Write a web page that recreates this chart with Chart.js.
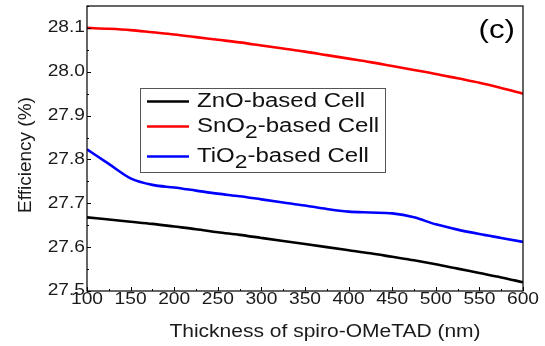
<!DOCTYPE html>
<html>
<head>
<meta charset="utf-8">
<script src="https://cdn.jsdelivr.net/npm/chart.js@4.4.1/dist/chart.umd.min.js"></script>
<style>
  html, body { margin: 0; padding: 0; background: #fff; }
  #wrap { width: 545px; height: 346px; }
</style>
</head>
<body>
<div id="wrap"><canvas id="effChart" width="545" height="346"></canvas></div>
<script>
// Thickness of spiro-OMeTAD (nm)
const thickness = [100, 125, 150, 175, 200, 225, 250, 275, 300, 325, 350,
                   375, 400, 425, 450, 475, 500, 525, 550, 575, 600];

// Efficiency (%)
const znoEff = [27.668, 27.663, 27.658, 27.653, 27.647, 27.641, 27.634, 27.628, 27.621, 27.614, 27.607,
                27.600, 27.593, 27.586, 27.578, 27.570, 27.561, 27.551, 27.541, 27.531, 27.520];
const sno2Eff = [28.100, 28.098, 28.095, 28.090, 28.085, 28.079, 28.073, 28.067, 28.060, 28.053, 28.046,
                 28.038, 28.030, 28.022, 28.013, 28.004, 27.995, 27.985, 27.975, 27.963, 27.950];
const tio2Eff = [27.823, 27.790, 27.757, 27.742, 27.736, 27.729, 27.722, 27.716, 27.709, 27.702, 27.695,
                 27.687, 27.681, 27.679, 27.677, 27.668, 27.652, 27.640, 27.630, 27.621, 27.612];

const seriesNames = ['ZnO-based Cell', 'SnO2-based Cell', 'TiO2-based Cell'];
const seriesColors = ['#000000', '#ff0000', '#0000ff'];
const xTicks = [100, 150, 200, 250, 300, 350, 400, 450, 500, 550, 600];
const yTicks = [27.5, 27.6, 27.7, 27.8, 27.9, 28.0, 28.1];

const FONT = 'Arial, "Liberation Sans", Helvetica, sans-serif';
const SX = 1.2; // the original text looks horizontally stretched

function toPoints(ys) {
    return thickness.map((t, i) => ({ x: t, y: ys[i] }));
}

// draw text with a horizontal stretch, returns drawn width
function stretchText(ctx, text, x, y, align) {
    const w = ctx.measureText(text).width * SX;
    let left = x;
    if (align === 'right') left = x - w;
    else if (align === 'center') left = x - w / 2;
    ctx.save();
    ctx.translate(left, y);
    ctx.scale(SX, 1);
    ctx.textAlign = 'left';
    ctx.fillText(text, 0, 0);
    ctx.restore();
    return w;
}

// label with "O2" subscript handling
function drawChemLabel(ctx, label, x, y) {
    const parts = label.split(/(O2)/);
    let cx = x;
    parts.forEach(p => {
        if (!p) return;
        if (p === 'O2') {
            ctx.font = '20px ' + FONT;
            cx += stretchText(ctx, 'O', cx, y, 'left');
            ctx.font = '19px ' + FONT;
            cx += stretchText(ctx, '2', cx, y + 6, 'left');
        } else {
            ctx.font = '20px ' + FONT;
            cx += stretchText(ctx, p, cx, y, 'left');
        }
    });
}

const decorPlugin = {
    id: 'decor',
    afterDraw(chart) {
        const ctx = chart.ctx;
        const area = chart.chartArea;
        const xs = chart.scales.x;
        const ys = chart.scales.y;

        ctx.save();
        // inward ticks on left and bottom axes
        ctx.strokeStyle = '#000';
        ctx.lineWidth = 1;
        for (let v = 100; v <= 600; v += 25) {
            const px = Math.round(xs.getPixelForValue(v)) + 0.5;
            const len = v % 50 === 0 ? 4 : 2;
            ctx.beginPath();
            ctx.moveTo(px, area.bottom);
            ctx.lineTo(px, area.bottom - len);
            ctx.stroke();
        }
        yTicks.forEach(v => {
            const py = Math.round(ys.getPixelForValue(v)) + 0.5;
            ctx.beginPath();
            ctx.moveTo(area.left, py);
            ctx.lineTo(area.left + 4, py);
            ctx.stroke();
            const pm = Math.round(ys.getPixelForValue(v + 0.05)) + 0.5;
            if (pm > area.top) {
                ctx.beginPath();
                ctx.moveTo(area.left, pm);
                ctx.lineTo(area.left + 2, pm);
                ctx.stroke();
            }
        });

        // frame
        ctx.strokeStyle = '#000';
        ctx.lineWidth = 1.2;
        ctx.strokeRect(area.left, area.top, area.right - area.left, area.bottom - area.top);

        // tick labels
        ctx.fillStyle = '#1a1a1a';
        ctx.font = '16px ' + FONT;
        ctx.textBaseline = 'middle';
        xs.ticks.forEach(t => {
            stretchText(ctx, String(t.value), xs.getPixelForValue(t.value), area.bottom + 9, 'center');
        });
        ys.ticks.forEach(t => {
            stretchText(ctx, t.value.toFixed(1), area.left - 2, ys.getPixelForValue(t.value), 'right');
        });

        // axis titles
        ctx.font = '17.5px ' + FONT;
        stretchText(ctx, 'Thickness of spiro-OMeTAD (nm)', 325, 332, 'center');
        ctx.save();
        ctx.translate(26, 155);
        ctx.rotate(-Math.PI / 2);
        ctx.font = '19px ' + FONT;
        ctx.textAlign = 'center';
        ctx.fillText('Efficiency (%)', 0, 0);
        ctx.restore();

        // panel label
        ctx.font = '26px ' + FONT;
        ctx.fillStyle = '#000';
        stretchText(ctx, '(c)', 515, 31, 'right');

        // legend
        ctx.fillStyle = '#fff';
        ctx.fillRect(140, 88, 246, 85);
        ctx.strokeStyle = '#555';
        ctx.lineWidth = 1;
        ctx.strokeRect(140.5, 88.5, 245, 84);
        const rows = [101.5, 126.5, 156.5];
        const bases = [107, 132, 162];
        seriesNames.forEach((name, i) => {
            ctx.strokeStyle = seriesColors[i];
            ctx.lineWidth = 2.5;
            ctx.beginPath();
            ctx.moveTo(147, rows[i]);
            ctx.lineTo(189, rows[i]);
            ctx.stroke();
            ctx.fillStyle = '#111';
            ctx.textBaseline = 'alphabetic';
            drawChemLabel(ctx, name, 197, bases[i]);
        });
        ctx.restore();
    }
};

const datasets = [znoEff, sno2Eff, tio2Eff].map((ys, i) => ({
    label: seriesNames[i],
    data: toPoints(ys),
    borderColor: seriesColors[i],
    backgroundColor: seriesColors[i],
    borderWidth: 2.6,
    pointRadius: 0,
    cubicInterpolationMode: 'monotone',
    fill: false
}));

new Chart(document.getElementById('effChart').getContext('2d'), {
    type: 'line',
    data: { datasets: datasets },
    options: {
        responsive: false,
        animation: false,
        devicePixelRatio: 1,
        layout: { padding: { top: 6, right: 22, left: 0, bottom: 0 } },
        plugins: {
            legend: { display: false },
            tooltip: { enabled: false }
        },
        scales: {
            x: {
                type: 'linear',
                min: 100,
                max: 600,
                afterBuildTicks: scale => { scale.ticks = xTicks.map(v => ({ value: v })); },
                ticks: { display: false },
                grid: { display: false },
                border: { display: false },
                afterFit: scale => { scale.height = 55; }
            },
            y: {
                type: 'linear',
                min: 27.5,
                max: 28.15,
                afterBuildTicks: scale => { scale.ticks = yTicks.map(v => ({ value: v })); },
                ticks: { display: false },
                grid: { display: false },
                border: { display: false },
                afterFit: scale => { scale.width = 87; }
            }
        }
    },
    plugins: [decorPlugin]
});
</script>
</body>
</html>
